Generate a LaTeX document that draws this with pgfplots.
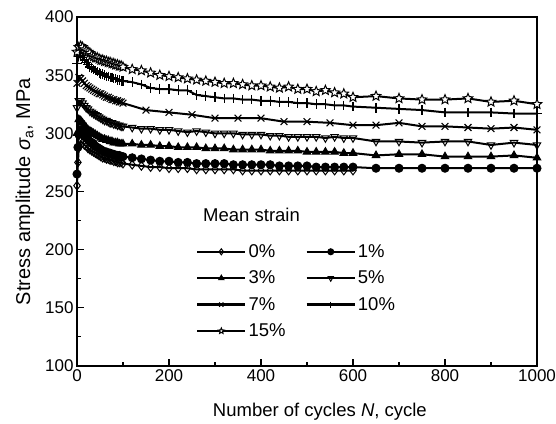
\documentclass[border=0pt]{standalone}
\usepackage{pgfplots}
\pgfplotsset{compat=1.18}
\usepackage{fontspec}
\setmainfont{Liberation Sans}
\usetikzlibrary{plotmarks}
\pgfdeclareplotmark{ostar}{%
  \pgfpathmoveto{\pgfpointpolar{90}{\pgfplotmarksize}}%
  \pgfpathlineto{\pgfpointpolar{126}{0.45\pgfplotmarksize}}%
  \pgfpathlineto{\pgfpointpolar{162}{\pgfplotmarksize}}%
  \pgfpathlineto{\pgfpointpolar{198}{0.45\pgfplotmarksize}}%
  \pgfpathlineto{\pgfpointpolar{234}{\pgfplotmarksize}}%
  \pgfpathlineto{\pgfpointpolar{270}{0.45\pgfplotmarksize}}%
  \pgfpathlineto{\pgfpointpolar{306}{\pgfplotmarksize}}%
  \pgfpathlineto{\pgfpointpolar{342}{0.45\pgfplotmarksize}}%
  \pgfpathlineto{\pgfpointpolar{18}{\pgfplotmarksize}}%
  \pgfpathlineto{\pgfpointpolar{54}{0.45\pgfplotmarksize}}%
  \pgfpathclose
  \pgfusepathqfillstroke
}
\begin{document}
\begin{tikzpicture}
\begin{axis}[
  name=ax,
  width=460pt, height=349pt, scale only axis,
  xmin=0, xmax=1000, ymin=100, ymax=400,
  xtick={0,200,400,600,800,1000},
  ytick={100,150,200,250,300,350,400},
  minor x tick num=1, minor y tick num=1,
  xtick pos=left, ytick pos=left,
  tick align=inside,
  major tick length=7pt, minor tick length=4pt,
  axis line style={line width=1.2pt},
  every tick/.style={black, line width=1.1pt},
  /pgf/number format/assume math mode=true,
  /pgf/number format/set thousands separator={},
  tick label style={font=\fontsize{17}{20}\selectfont},
  xlabel={Number of cycles \textit{N}, cycle},
  ylabel={Stress amplitude {\itshape σ}\textsubscript{a}, MPa},
  xlabel style={font=\fontsize{18.5}{21}\selectfont, at={(axis description cs:0.528,-0.132)}, anchor=center},
  ylabel style={font=\fontsize{20}{23}\selectfont, at={(axis description cs:-0.113,0.5)}, anchor=center},
  legend columns=2,
  legend style={draw=none, fill=none, at={(axis cs:252,208)}, anchor=north west,
    font=\fontsize{18.5}{21}\selectfont, row sep=8pt,
    /tikz/every even column/.append style={column sep=18pt}},
  legend cell align=left,
  legend image code/.code={\draw[mark repeat=2,mark phase=2,#1,mark size=3pt,line width=2.4pt] plot coordinates {(0pt,0pt)(24pt,0pt)(48pt,0pt)};},
  every axis plot/.append style={black, line width=2pt, mark size=4.3pt},
]
% 0%
\addplot[mark=diamond, mark options={solid, fill=white, line width=1pt}] coordinates {
(0,255)(2,275)(4,288)(8,293)(12,292)(16,290)(20,289)(24,287)(28,286)(32,285)(36,284)(40,283)(44,282)(48,281)(52,280)(56,279)(60,279)(64,278)(68,278)(72,277)(76,277)(80,276)(84,276)(88,275)(92,275)(96,275)(100,274)
(120,273)(140,272)(160,271)(180,271)(200,270)(220,270)(240,270)(260,269)(280,269)(300,269)(320,269)(340,269)(360,268)(380,268)(400,268)(420,268)(440,268)(460,268)(480,268)(500,268)(520,268)(540,268)(560,268)(580,268)(600,268)};
\addlegendentry{0\%}
% 1%
\addplot[mark=*, mark options={solid, fill=black, line width=1pt}, mark size=4pt] coordinates {
(0,265)(2,288)(4,299)(8,303)(12,301)(16,299)(20,297)(24,295)(28,293)(32,292)(36,291)(40,289)(44,288)(48,287)(52,286)(56,285)(60,284)(64,284)(68,283)(72,283)(76,282)(80,282)(84,281)(88,281)(92,281)(96,280)(100,280)
(120,279)(140,278)(160,277)(180,276)(200,276)(220,275)(240,275)(260,274)(280,274)(300,274)(320,274)(340,273)(360,273)(380,273)(400,273)(420,273)(440,272)(460,272)(480,272)(500,272)(520,271)(540,271)(560,271)(580,271)(600,271)(650,270)(700,270)(750,270)(800,270)(850,270)(900,270)(950,270)(1000,270)};
\addlegendentry{1\%}
% 3%
\addplot[mark=triangle*, mark options={solid, fill=black, line width=1pt}] coordinates {
(0,300)(4,312)(8,311)(12,309)(16,307)(20,305)(24,303)(28,302)(32,301)(36,300)(40,299)(44,298)(48,297)(52,296)(56,295)(60,295)(64,294)(68,294)(72,293)(76,293)(80,292)(84,292)(88,292)(92,291)(96,291)(100,291)
(120,291)(140,290)(160,290)(180,289)(200,289)(220,288)(240,288)(260,288)(280,287)(300,287)(320,287)(340,286)(360,286)(380,286)(400,286)(420,285)(440,285)(460,285)(480,285)(500,284)(520,284)(540,284)(560,284)(580,283)(600,283)(650,281)(700,282)(750,282)(800,280)(850,280)(900,280)(950,281)(1000,279)};
\addlegendentry{3\%}
% 5%
\addplot[mark=triangle, mark options={solid, rotate=180, fill=white, line width=1pt}] coordinates {
(0,322)(4,328)(8,328)(12,326)(16,324)(20,322)(24,321)(28,319)(32,318)(36,317)(40,316)(44,315)(48,314)(52,313)(56,312)(60,311)(64,311)(68,310)(72,309)(76,309)(80,308)(84,308)(88,307)(92,307)(96,306)(100,306)
(120,305)(140,304)(160,304)(180,303)(200,303)(220,302)(240,301)(260,302)(280,301)(300,300)(320,300)(340,300)(360,299)(380,299)(400,299)(420,298)(440,298)(460,297)(480,297)(500,297)(520,297)(540,296)(560,297)(580,296)(600,296)(650,293)(700,293)(750,292)(800,293)(850,293)(900,290)(950,292)(1000,290)};
\addlegendentry{5\%}
% 7%
\addplot[mark=x, mark options={solid, line width=1.1pt}, mark size=4.8pt] coordinates {
(0,343)(4,348)(8,347)(12,345)(16,343)(20,341)(24,340)(28,339)(32,338)(36,337)(40,336)(44,335)(48,334)(52,334)(56,333)(60,332)(64,331)(68,331)(72,330)(76,329)(80,329)(84,328)(88,328)(92,327)(96,327)(100,326)
(150,320)(200,318)(250,316)(300,313)(350,313)(400,313)(450,310)(500,310)(550,309)(600,307)(650,307)(700,309)(750,306)(800,306)(850,305)(900,304)(950,305)(1000,303)};
\addlegendentry{7\%}
% 10%
\addplot[mark=+, mark options={solid, line width=1.1pt}, mark size=4.8pt] coordinates {
(0,360)(4,366)(8,367)(12,365)(16,363)(20,361)(24,359)(28,357)(32,356)(36,355)(40,354)(44,353)(48,352)(52,351)(56,351)(60,350)(64,349)(68,349)(72,348)(76,348)(80,347)(84,347)(88,346)(92,346)(96,345)(100,345)
(120,344)(140,342)(160,339)(180,338)(200,338)(220,337)(240,337)(260,333)(280,332)(300,331)(320,330)(340,330)(360,329)(380,329)(400,328)(420,328)(440,327)(460,327)(480,326)(500,326)(520,325)(540,325)(560,324)(580,324)(600,323)(650,322)(700,321)(750,320)(800,318)(850,318)(900,318)(950,317)(1000,317)};
\addlegendentry{10\%}
% 15%
\addplot[mark=ostar, mark options={solid, fill=white, line width=1pt}, mark size=5pt] coordinates {
(0,370)(4,374)(8,375)(12,374)(16,372)(20,371)(24,370)(28,369)(32,367)(36,366)(40,365)(44,365)(48,364)(52,363)(56,363)(60,362)(64,362)(68,361)(72,361)(76,360)(80,360)(84,359)(88,359)(92,358)(96,358)(100,357)
(120,355)(140,354)(160,352)(180,350)(200,349)(220,348)(240,347)(260,346)(280,345)(300,344)(320,343)(340,343)(360,342)(380,341)(400,341)(420,340)(440,339)(460,340)(480,338)(500,338)(520,336)(540,337)(560,335)(580,334)(600,331)(650,332)(700,330)(750,329)(800,329)(850,330)(900,327)(950,328)(1000,325)};
\addlegendentry{15\%}
\node[anchor=west, font=\fontsize{18.5}{21}\selectfont, inner sep=0pt] at (axis cs:274,230) {Mean strain};
\end{axis}
\pgfresetboundingbox
\path ([shift={(-77pt,-57pt)}]ax.south west) rectangle ([shift={(19pt,17pt)}]ax.north east);
\end{tikzpicture}
\end{document}
